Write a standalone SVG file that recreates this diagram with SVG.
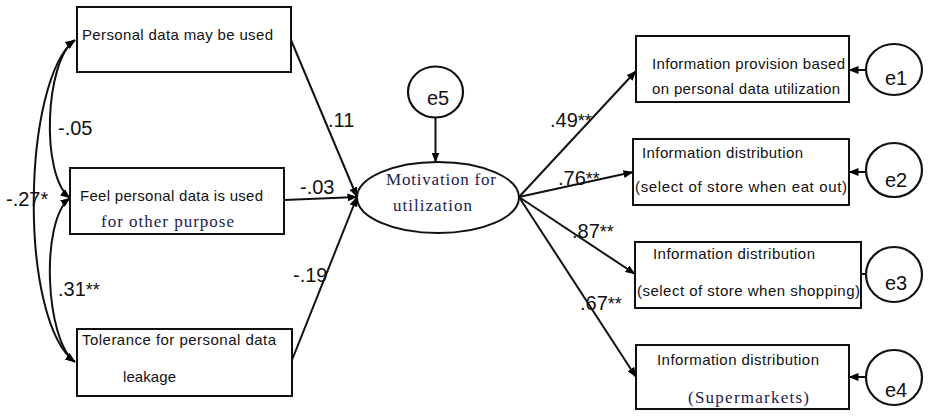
<svg xmlns="http://www.w3.org/2000/svg" width="929" height="416" viewBox="0 0 929 416">
<defs>
<marker id="ah" markerUnits="userSpaceOnUse" markerWidth="10" markerHeight="8" refX="9.5" refY="4" orient="auto-start-reverse">
<path d="M0,0 L10,4 L0,8 z" fill="#000"/>
</marker>
</defs>
<style>
.box{fill:#fff;stroke:#111;stroke-width:2}
.err{fill:#fff;stroke:#111;stroke-width:2.2}
.ln{fill:none;stroke:#111;stroke-width:2}
.t{font-family:"Liberation Sans",Arial,sans-serif;font-size:15px;fill:#111}
.s{font-family:"Liberation Serif","Times New Roman",serif;font-size:17px;fill:#1c1c50}
.n{font-family:"Liberation Sans",Arial,sans-serif;font-size:20px;fill:#111}
.st{font-size:18px}
.e{font-family:"Liberation Sans",Arial,sans-serif;font-size:20px;fill:#111}
</style>
<rect width="929" height="416" fill="#fff"/>

<g id="connectors">
<path class="ln" d="M75,40 C45,60 40,175 70,198" marker-start="url(#ah)" marker-end="url(#ah)"/>
<path class="ln" d="M75,40 C22,80 18,320 75,362" marker-start="url(#ah)" marker-end="url(#ah)"/>
<path class="ln" d="M70,198 C40,220 45,340 75,362" marker-start="url(#ah)" marker-end="url(#ah)"/>
<line class="ln" x1="291" y1="40" x2="357" y2="197" marker-end="url(#ah)"/>
<line class="ln" x1="284" y1="200" x2="357" y2="197" marker-end="url(#ah)"/>
<line class="ln" x1="292" y1="360" x2="357" y2="197" marker-end="url(#ah)"/>
<line class="ln" x1="435.5" y1="118" x2="435.5" y2="162" marker-end="url(#ah)"/>
<line class="ln" x1="519" y1="197" x2="636" y2="71" marker-end="url(#ah)"/>
<line class="ln" x1="519" y1="197" x2="633" y2="172" marker-end="url(#ah)"/>
<line class="ln" x1="519" y1="197" x2="635" y2="274" marker-end="url(#ah)"/>
<line class="ln" x1="519" y1="197" x2="636" y2="377" marker-end="url(#ah)"/>
<line class="ln" x1="866" y1="70" x2="849" y2="70" marker-end="url(#ah)"/>
<line class="ln" x1="866" y1="172" x2="849" y2="172" marker-end="url(#ah)"/>
<line class="ln" x1="866" y1="274" x2="850" y2="274" marker-end="url(#ah)"/>
<line class="ln" x1="866" y1="377" x2="849" y2="377" marker-end="url(#ah)"/>
<text class="n" x="58" y="135">-.05</text>
<text class="n" x="6" y="206">-.27*</text>
<text class="n" x="58" y="296">.31<tspan class="st">**</tspan></text>
<text class="n" x="328" y="127">.11</text>
<text class="n" x="300" y="194">-.03</text>
<text class="n" x="293" y="282">-.19</text>
<text class="n" x="550" y="127">.49<tspan class="st">**</tspan></text>
<text class="n" x="558" y="185">.76<tspan class="st">**</tspan></text>
<text class="n" x="572" y="238">.87<tspan class="st">**</tspan></text>
<text class="n" x="580" y="310">.67<tspan class="st">**</tspan></text>
</g>

<g id="x1">
<rect class="box" x="77" y="7" width="214" height="65"/>
<text class="t" x="82" y="40" textLength="191" lengthAdjust="spacing">Personal data may be used</text>
</g>
<g id="x2">
<rect class="box" x="70" y="168" width="214" height="66"/>
<text class="t" x="80" y="201" textLength="183" lengthAdjust="spacing">Feel personal data is used</text>
<text class="s" x="101" y="227" textLength="133" lengthAdjust="spacing">for other purpose</text>
</g>
<g id="x3">
<rect class="box" x="77" y="329" width="215" height="67"/>
<text class="t" x="82" y="345" textLength="194" lengthAdjust="spacing">Tolerance for personal data</text>
<text class="t" x="123" y="382" textLength="53" lengthAdjust="spacing">leakage</text>
</g>

<g id="motivation">
<ellipse class="box" cx="438" cy="197.5" rx="81" ry="35.5"/>
<text class="s" x="386" y="185" textLength="110" lengthAdjust="spacing">Motivation for</text>
<text class="s" x="393" y="211" textLength="79" lengthAdjust="spacing">utilization</text>
</g>
<g id="e5">
<ellipse class="err" cx="435.5" cy="92" rx="27.5" ry="25.5"/>
<text class="e" x="438" y="105" text-anchor="middle">e5</text>
</g>

<g id="y1">
<rect class="box" x="636" y="36" width="213" height="66"/>
<text class="t" x="652" y="69" textLength="193" lengthAdjust="spacing">Information provision based</text>
<text class="t" x="652" y="94" textLength="188" lengthAdjust="spacing">on personal data utilization</text>
</g>
<g id="y2">
<rect class="box" x="633" y="139" width="216" height="66"/>
<text class="t" x="642" y="158" textLength="161" lengthAdjust="spacing">Information distribution</text>
<text class="t" x="635" y="192" textLength="212" lengthAdjust="spacing">(select of store when eat out)</text>
</g>
<g id="y3">
<rect class="box" x="635" y="242" width="226" height="66"/>
<text class="t" x="653" y="259" textLength="162" lengthAdjust="spacing">Information distribution</text>
<text class="t" x="637" y="296" textLength="223" lengthAdjust="spacing">(select of store when shopping)</text>
</g>
<g id="y4">
<rect class="box" x="636" y="345" width="213" height="64"/>
<text class="t" x="657" y="365" textLength="162" lengthAdjust="spacing">Information distribution</text>
<text class="s" x="688" y="403" textLength="121" lengthAdjust="spacing">(Supermarkets)</text>
</g>

<g id="e1">
<ellipse class="err" cx="894" cy="69.5" rx="28" ry="25.5"/>
<text class="e" x="885" y="85">e1</text>
</g>
<g id="e2">
<ellipse class="err" cx="894" cy="170" rx="28" ry="27"/>
<text class="e" x="885" y="187">e2</text>
</g>
<g id="e3">
<ellipse class="err" cx="894" cy="274.5" rx="28" ry="27.5"/>
<text class="e" x="885" y="290">e3</text>
</g>
<g id="e4">
<ellipse class="err" cx="894" cy="377.5" rx="28" ry="27.5"/>
<text class="e" x="885" y="397">e4</text>
</g>
</svg>
